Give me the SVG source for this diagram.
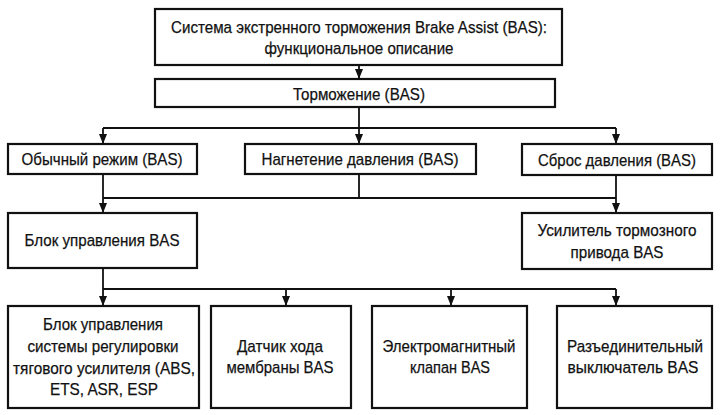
<svg xmlns="http://www.w3.org/2000/svg" width="720" height="415" viewBox="0 0 720 415">
<defs>
<style>
.box{fill:#fff;stroke:#111;stroke-width:2.2}
.ln{fill:none;stroke:#111;stroke-width:1.8}
.ar{fill:none;stroke:#111;stroke-width:1.8;marker-end:url(#ah)}
text{font-family:"Liberation Sans",Arial,sans-serif;font-size:17px;fill:#111;stroke:#111;stroke-width:0.25;text-anchor:middle}
</style>
<marker id="ah" markerUnits="userSpaceOnUse" markerWidth="10" markerHeight="8" viewBox="0 0 10 8" refX="10" refY="4" orient="auto">
<path d="M0,0 L10,4 L0,8 Z" fill="#111" stroke="none"/>
</marker>
</defs>
<rect width="720" height="415" fill="#fff"/>
<g id="connectors">
<path class="ar" d="M359,65 V79"/>
<path class="ln" d="M359,107 V128 M103,128 H616"/>
<path class="ar" d="M103,128 V144"/>
<path class="ar" d="M359,128 V144"/>
<path class="ar" d="M616,128 V144"/>
<path class="ln" d="M359,174 V198 M103,198 H616"/>
<path class="ar" d="M103,174 V213"/>
<path class="ar" d="M616,175 V213"/>
<path class="ln" d="M103,289 H616"/>
<path class="ar" d="M103,268 V306"/>
<path class="ar" d="M286,289 V306"/>
<path class="ar" d="M451,289 V306"/>
<path class="ar" d="M616,289 V306"/>
</g>
<g id="n-top">
<rect class="box" x="155" y="9" width="407" height="56"/>
<text x="359" y="33" textLength="376" lengthAdjust="spacingAndGlyphs">Система экстренного торможения Brake Assist (BAS):</text>
<text x="359" y="54" textLength="189" lengthAdjust="spacingAndGlyphs">функциональное описание</text>
</g>
<g id="n-torm">
<rect class="box" x="155" y="79" width="400" height="28"/>
<text x="359" y="100" textLength="132" lengthAdjust="spacingAndGlyphs">Торможение (BAS)</text>
</g>
<g id="n-normal">
<rect class="box" x="8" y="144" width="189" height="30"/>
<text x="102" y="165" textLength="161" lengthAdjust="spacingAndGlyphs">Обычный режим (BAS)</text>
</g>
<g id="n-pressure">
<rect class="box" x="245" y="144" width="231" height="30"/>
<text x="360" y="165" textLength="197" lengthAdjust="spacingAndGlyphs">Нагнетение давления (BAS)</text>
</g>
<g id="n-release">
<rect class="box" x="522" y="144" width="190" height="31"/>
<text x="617" y="166" textLength="158" lengthAdjust="spacingAndGlyphs">Сброс давления (BAS)</text>
</g>
<g id="n-ecu">
<rect class="box" x="8" y="213" width="189" height="55"/>
<text x="102" y="246" textLength="155" lengthAdjust="spacingAndGlyphs">Блок управления BAS</text>
</g>
<g id="n-booster">
<rect class="box" x="522" y="213" width="190" height="56"/>
<text x="617" y="236" textLength="159" lengthAdjust="spacingAndGlyphs">Усилитель тормозного</text>
<text x="617" y="258" textLength="93" lengthAdjust="spacingAndGlyphs">привода BAS</text>
</g>
<g id="n-traction">
<rect class="box" x="8" y="306" width="191" height="102"/>
<text x="103" y="330" textLength="120" lengthAdjust="spacingAndGlyphs">Блок управления</text>
<text x="103" y="352" textLength="151" lengthAdjust="spacingAndGlyphs">системы регулировки</text>
<text x="104" y="374" textLength="182" lengthAdjust="spacingAndGlyphs">тягового усилителя (ABS,</text>
<text x="104" y="395" textLength="108" lengthAdjust="spacingAndGlyphs">ETS, ASR, ESP</text>
</g>
<g id="n-sensor">
<rect class="box" x="211" y="306" width="140" height="102"/>
<text x="280" y="352" textLength="86" lengthAdjust="spacingAndGlyphs">Датчик хода</text>
<text x="280" y="373" textLength="107" lengthAdjust="spacingAndGlyphs">мембраны BAS</text>
</g>
<g id="n-valve">
<rect class="box" x="372" y="306" width="155" height="102"/>
<text x="449" y="352" textLength="133" lengthAdjust="spacingAndGlyphs">Электромагнитный</text>
<text x="450" y="373" textLength="80" lengthAdjust="spacingAndGlyphs">клапан BAS</text>
</g>
<g id="n-switch">
<rect class="box" x="557" y="306" width="155" height="102"/>
<text x="635" y="352" textLength="136" lengthAdjust="spacingAndGlyphs">Разъединительный</text>
<text x="633" y="373" textLength="131" lengthAdjust="spacingAndGlyphs">выключатель BAS</text>
</g>
</svg>
